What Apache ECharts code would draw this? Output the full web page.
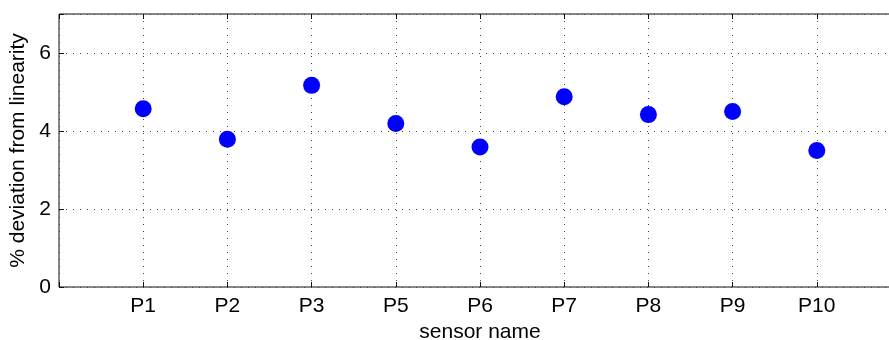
<!DOCTYPE html>
<html>
<head>
<meta charset="utf-8">
<script src="https://cdn.jsdelivr.net/npm/echarts@6/dist/echarts.min.js"></script>
<style>
  html, body { margin: 0; padding: 0; background: #fff; overflow: hidden; }
  /* the plot box runs past the right edge of the picture, as in the original */
  #main { width: 920px; height: 340px; }
</style>
</head>
<body>
<div id="main"></div>
<script>
// sensor names and their deviation (%)
var sensors = ['P1', 'P2', 'P3', 'P5', 'P6', 'P7', 'P8', 'P9', 'P10']
var deviation = [4.57, 3.79, 5.17, 4.19, 3.59, 4.88, 4.42, 4.50, 3.50]
var yTicks = [0, 2, 4, 6]

var points = []
for (var i = 0; i < sensors.length; i++) {
  points.push([i + 1, deviation[i]])
}

var font = 'Liberation Sans, Arial, Helvetica, sans-serif'
var gridDots = { color: '#444', width: 1, type: [1, 6] }

var myChart = echarts.init(document.getElementById('main'))
myChart.setOption({
  animation: false,
  // box border: its right side falls outside the 889px window
  grid: { left: 59, top: 14, width: 842, height: 273, outerBoundsMode: 'none', containLabel: false,
    show: true, borderColor: '#111', borderWidth: 1 },
  xAxis: [{
    type: 'value', min: 0, max: 10, interval: 1,
    name: 'sensor name', nameLocation: 'middle', nameGap: 35,
    nameTextStyle: { fontFamily: font, fontSize: 21, color: '#000' },
    axisLine: { show: false },
    axisTick: { show: true, inside: true, length: 5, lineStyle: { color: '#111' } },
    axisLabel: {
      fontFamily: font, fontSize: 21, color: '#000', margin: 9,
      formatter: function (v) { return sensors[v - 1] || '' }
    },
    splitLine: { show: true, lineStyle: gridDots }
  }, {
    type: 'value', position: 'top', min: 0, max: 10, interval: 1,
    axisLine: { show: false },
    axisTick: { show: true, inside: true, length: 5, lineStyle: { color: '#111' } },
    axisLabel: { show: false },
    splitLine: { show: false }
  }],
  yAxis: {
    type: 'value', min: 0, max: 7, interval: 2,
    name: '% deviation from linearity', nameLocation: 'middle', nameGap: 26,
    nameTextStyle: { fontFamily: font, fontSize: 21, color: '#000' },
    axisLine: { show: false },
    axisTick: { show: true, inside: true, length: 5, lineStyle: { color: '#111' } },
    axisLabel: {
      fontFamily: font, fontSize: 21, color: '#000', margin: 8,
      formatter: function (v) { return yTicks.indexOf(v) >= 0 ? String(v) : '' }
    },
    splitLine: { show: true, lineStyle: gridDots }
  },
  series: [{
    type: 'scatter',
    data: points,
    symbol: 'circle',
    symbolSize: 17,
    itemStyle: { color: '#0000ff', opacity: 1 }
  }]
})
</script>
</body>
</html>
